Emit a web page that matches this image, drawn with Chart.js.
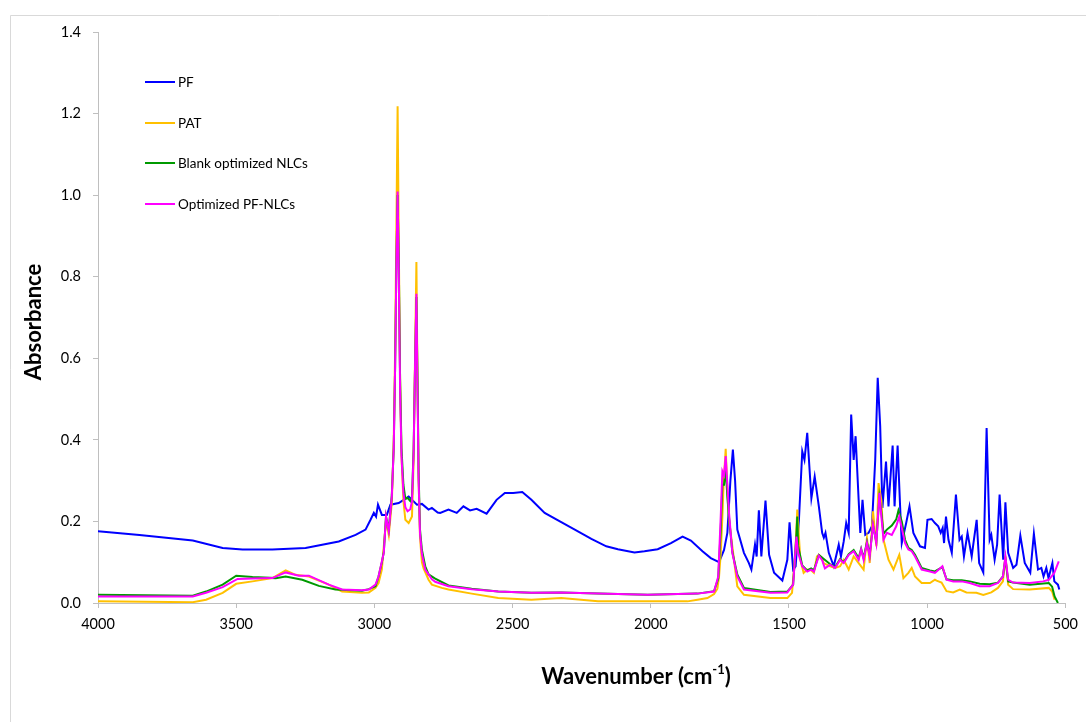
<!DOCTYPE html>
<html>
<head>
<meta charset="utf-8">
<script src="https://cdn.jsdelivr.net/npm/chart.js@4.4.1/dist/chart.umd.min.js"></script>
<style>
  html, body { margin: 0; padding: 0; background: #fff; }
  #wrap { width: 1086px; height: 722px; position: relative; }
</style>
</head>
<body>
<div id="wrap"><canvas id="ftirChart" width="1086" height="722"></canvas></div>
<script>
// wavenumbers (cm-1) and absorbance
const seriesNames = ['PF', 'PAT', 'Blank optimized NLCs', 'Optimized PF-NLCs'];
const xTicks = [4000, 3500, 3000, 2500, 2000, 1500, 1000, 500];
const yTicks = [0, 0.2, 0.4, 0.6, 0.8, 1.0, 1.2, 1.4];

const pfWn = [4000, 3850, 3657, 3549, 3477, 3369, 3249, 3129, 3068, 3032, 3014, 3002, 2994, 2987, 2973, 2955, 2942, 2912, 2876, 2846,
  2828, 2804, 2792, 2771, 2762, 2732, 2702, 2678, 2654, 2630, 2594, 2558, 2528, 2498, 2465, 2432, 2384, 2324, 2275, 2215,
  2161, 2119, 2059, 2023, 1975, 1927, 1885, 1855, 1813, 1783, 1753, 1735, 1723, 1712, 1703, 1695, 1687, 1663, 1645, 1636,
  1623, 1617, 1609, 1600, 1585, 1572, 1554, 1524, 1506, 1498, 1485, 1476, 1464, 1452, 1444, 1434, 1419, 1407, 1392, 1380,
  1374, 1368, 1356, 1338, 1320, 1312, 1302, 1293, 1284, 1275, 1266, 1259, 1248, 1242, 1234, 1224, 1212, 1200, 1188, 1179,
  1170, 1162, 1149, 1140, 1125, 1118, 1107, 1098, 1092, 1076, 1064, 1050, 1026, 1008, 999, 984, 972, 960, 951, 944,
  939, 932, 923, 911, 896, 883, 875, 867, 854, 839, 831, 821, 812, 797, 785, 774, 768, 756, 747, 738,
  725, 717, 707, 689, 677, 663, 647, 627, 614, 599, 587, 579, 569, 561, 547, 540, 527, 522];
const pfAbs = [0.176, 0.167, 0.153, 0.135, 0.131, 0.131, 0.135, 0.151, 0.167, 0.180, 0.204, 0.221, 0.212, 0.241, 0.216, 0.216, 0.241, 0.245, 0.261, 0.241,
  0.243, 0.229, 0.233, 0.222, 0.221, 0.229, 0.221, 0.237, 0.227, 0.231, 0.219, 0.253, 0.270, 0.270, 0.272, 0.253, 0.221, 0.198, 0.180, 0.157,
  0.139, 0.132, 0.124, 0.127, 0.132, 0.147, 0.163, 0.153, 0.127, 0.110, 0.100, 0.130, 0.172, 0.300, 0.376, 0.300, 0.180, 0.123, 0.098, 0.082,
  0.143, 0.114, 0.227, 0.114, 0.251, 0.118, 0.074, 0.055, 0.106, 0.198, 0.082, 0.090, 0.204, 0.372, 0.351, 0.417, 0.257, 0.310, 0.237, 0.172,
  0.160, 0.172, 0.123, 0.090, 0.143, 0.114, 0.151, 0.196, 0.172, 0.462, 0.351, 0.409, 0.253, 0.172, 0.253, 0.167, 0.172, 0.188, 0.351, 0.552,
  0.433, 0.233, 0.347, 0.237, 0.386, 0.237, 0.386, 0.237, 0.147, 0.196, 0.237, 0.172, 0.139, 0.135, 0.204, 0.206, 0.196, 0.188, 0.172, 0.184,
  0.147, 0.212, 0.155, 0.123, 0.266, 0.155, 0.163, 0.114, 0.172, 0.114, 0.155, 0.204, 0.098, 0.075, 0.429, 0.155, 0.167, 0.106, 0.143, 0.266,
  0.106, 0.247, 0.123, 0.086, 0.094, 0.165, 0.098, 0.074, 0.170, 0.082, 0.086, 0.065, 0.086, 0.061, 0.098, 0.053, 0.045, 0.033];

const patWn = [4000, 3657, 3609, 3549, 3500, 3441, 3369, 3321, 3285, 3237, 3165, 3117, 3045, 3020, 2996, 2985, 2973, 2963, 2958, 2948,
  2937, 2930, 2925, 2920, 2916, 2912, 2907, 2902, 2895, 2888, 2876, 2864, 2858, 2853, 2848, 2844, 2840, 2835, 2828, 2822,
  2804, 2792, 2756, 2732, 2648, 2552, 2432, 2324, 2191, 2011, 1867, 1831, 1795, 1771, 1759, 1753, 1747, 1741, 1737, 1729,
  1723, 1717, 1705, 1687, 1663, 1567, 1506, 1489, 1477, 1470, 1459, 1447, 1434, 1420, 1410, 1399, 1392, 1380, 1375, 1351,
  1333, 1315, 1302, 1284, 1266, 1248, 1230, 1218, 1208, 1196, 1184, 1176, 1166, 1158, 1140, 1122, 1101, 1086, 1068, 1056,
  1044, 1020, 990, 972, 966, 948, 930, 906, 882, 858, 822, 797, 768, 744, 726, 717, 707, 689, 629, 560,
  548, 539];
const patAbs = [0.004, 0.002, 0.008, 0.025, 0.047, 0.053, 0.061, 0.080, 0.069, 0.065, 0.045, 0.028, 0.025, 0.026, 0.037, 0.049, 0.082, 0.163, 0.204, 0.167,
  0.245, 0.400, 0.620, 0.950, 1.218, 0.900, 0.550, 0.360, 0.250, 0.204, 0.196, 0.212, 0.350, 0.600, 0.836, 0.550, 0.300, 0.160, 0.100, 0.085,
  0.057, 0.045, 0.037, 0.033, 0.023, 0.012, 0.008, 0.012, 0.004, 0.004, 0.004, 0.008, 0.012, 0.022, 0.035, 0.065, 0.120, 0.212, 0.286, 0.378,
  0.280, 0.204, 0.139, 0.041, 0.020, 0.012, 0.012, 0.025, 0.123, 0.229, 0.106, 0.074, 0.082, 0.080, 0.074, 0.114, 0.118, 0.110, 0.098, 0.090,
  0.086, 0.090, 0.106, 0.082, 0.114, 0.098, 0.082, 0.159, 0.098, 0.225, 0.139, 0.294, 0.253, 0.155, 0.106, 0.082, 0.118, 0.061, 0.074, 0.086,
  0.065, 0.049, 0.049, 0.057, 0.055, 0.050, 0.029, 0.026, 0.033, 0.026, 0.025, 0.020, 0.026, 0.037, 0.053, 0.114, 0.045, 0.034, 0.033, 0.037,
  0.028, 0.008];

const blankWn = [4000, 3657, 3609, 3549, 3500, 3441, 3357, 3321, 3261, 3201, 3141, 3045, 3020, 2996, 2985, 2973, 2966, 2958, 2948, 2937,
  2930, 2925, 2920, 2916, 2912, 2907, 2902, 2895, 2888, 2880, 2870, 2864, 2858, 2853, 2848, 2844, 2840, 2835, 2828, 2822,
  2816, 2804, 2780, 2732, 2648, 2552, 2432, 2324, 2191, 2011, 1831, 1771, 1756, 1747, 1741, 1735, 1729, 1723, 1717, 1705,
  1687, 1663, 1567, 1506, 1485, 1473, 1470, 1467, 1452, 1434, 1420, 1410, 1392, 1374, 1351, 1333, 1315, 1302, 1284, 1266,
  1248, 1239, 1230, 1218, 1208, 1196, 1184, 1173, 1167, 1158, 1146, 1128, 1112, 1104, 1092, 1080, 1068, 1056, 1044, 1020,
  990, 972, 966, 945, 930, 906, 875, 846, 810, 774, 744, 726, 717, 707, 689, 629, 560, 548, 539, 527];
const blankAbs = [0.020, 0.018, 0.028, 0.045, 0.067, 0.064, 0.061, 0.065, 0.057, 0.042, 0.033, 0.030, 0.034, 0.041, 0.065, 0.100, 0.125, 0.212, 0.180, 0.265,
  0.380, 0.580, 0.850, 1.000, 0.850, 0.550, 0.380, 0.290, 0.255, 0.258, 0.250, 0.260, 0.380, 0.580, 0.750, 0.550, 0.320, 0.180, 0.130, 0.110,
  0.090, 0.070, 0.060, 0.043, 0.035, 0.028, 0.025, 0.026, 0.023, 0.020, 0.023, 0.029, 0.060, 0.180, 0.290, 0.290, 0.330, 0.260, 0.210, 0.125,
  0.070, 0.037, 0.027, 0.028, 0.045, 0.170, 0.212, 0.140, 0.092, 0.080, 0.085, 0.080, 0.118, 0.108, 0.095, 0.088, 0.108, 0.100, 0.120, 0.130,
  0.110, 0.133, 0.110, 0.150, 0.118, 0.190, 0.150, 0.260, 0.230, 0.170, 0.180, 0.190, 0.205, 0.227, 0.200, 0.155, 0.135, 0.130, 0.118, 0.086,
  0.080, 0.077, 0.080, 0.088, 0.058, 0.056, 0.056, 0.053, 0.047, 0.046, 0.050, 0.065, 0.110, 0.053, 0.050, 0.045, 0.049, 0.040, 0.016, 0.000];

const optWn = [4000, 3657, 3609, 3549, 3495, 3441, 3369, 3321, 3273, 3237, 3165, 3117, 3045, 3020, 2996, 2985, 2966, 2958, 2948, 2937,
  2930, 2925, 2920, 2916, 2912, 2907, 2902, 2895, 2888, 2880, 2870, 2864, 2858, 2853, 2848, 2844, 2840, 2835, 2828, 2822,
  2816, 2792, 2780, 2732, 2648, 2552, 2432, 2324, 2191, 2011, 1831, 1771, 1756, 1747, 1741, 1735, 1729, 1723, 1717, 1705,
  1687, 1663, 1567, 1506, 1485, 1473, 1467, 1452, 1434, 1420, 1410, 1392, 1380, 1370, 1351, 1333, 1315, 1302, 1284, 1266,
  1248, 1239, 1230, 1218, 1208, 1196, 1184, 1173, 1167, 1158, 1146, 1128, 1112, 1101, 1092, 1080, 1068, 1056, 1044, 1020,
  990, 972, 966, 945, 930, 906, 875, 846, 810, 774, 744, 726, 717, 707, 689, 629, 581, 560, 540, 524];
const optAbs = [0.016, 0.016, 0.025, 0.039, 0.059, 0.060, 0.061, 0.075, 0.067, 0.067, 0.045, 0.033, 0.031, 0.033, 0.045, 0.065, 0.123, 0.212, 0.176, 0.261,
  0.380, 0.580, 0.850, 1.009, 0.820, 0.520, 0.360, 0.270, 0.235, 0.225, 0.230, 0.250, 0.370, 0.580, 0.758, 0.520, 0.300, 0.170, 0.120, 0.100,
  0.082, 0.058, 0.052, 0.041, 0.034, 0.028, 0.025, 0.026, 0.023, 0.020, 0.023, 0.028, 0.065, 0.212, 0.323, 0.313, 0.360, 0.290, 0.221, 0.123,
  0.065, 0.033, 0.025, 0.026, 0.045, 0.163, 0.123, 0.090, 0.077, 0.082, 0.077, 0.116, 0.105, 0.085, 0.094, 0.086, 0.106, 0.098, 0.118, 0.127,
  0.106, 0.131, 0.106, 0.147, 0.114, 0.192, 0.147, 0.270, 0.221, 0.155, 0.172, 0.167, 0.188, 0.212, 0.184, 0.147, 0.131, 0.127, 0.114, 0.082,
  0.077, 0.074, 0.077, 0.090, 0.057, 0.053, 0.053, 0.049, 0.041, 0.041, 0.049, 0.065, 0.114, 0.057, 0.050, 0.049, 0.053, 0.057, 0.074, 0.102];

const colors = ['#0000FF', '#FFC000', '#009A00', '#FF00FF'];

function pts(wn, ab) {
  return wn.map((w, i) => ({ x: w, y: ab[i] }));
}

const FONT = 'Lato, "Open Sans", sans-serif';

// frame, legend and axis titles
const decor = {
  id: 'decor',
  beforeDraw(chart) {
    const ctx = chart.ctx;
    ctx.save();
    ctx.fillStyle = '#fff';
    ctx.fillRect(0, 0, chart.width, chart.height);
    ctx.strokeStyle = '#d9d9d9';
    ctx.lineWidth = 1;
    ctx.beginPath();
    ctx.moveTo(10.5, chart.height + 2);
    ctx.lineTo(10.5, 15.5);
    ctx.lineTo(chart.width + 2, 15.5);
    ctx.stroke();
    ctx.restore();
  },
  afterDraw(chart) {
    const ctx = chart.ctx;
    const area = chart.chartArea;
    ctx.save();

    // legend
    const rows = [82, 123, 163, 204];
    ctx.font = '13.5px ' + FONT;
    ctx.textBaseline = 'middle';
    ctx.textAlign = 'left';
    chart.data.datasets.forEach((ds, i) => {
      ctx.strokeStyle = ds.borderColor;
      ctx.lineWidth = 2;
      ctx.beginPath();
      ctx.moveTo(145, rows[i]);
      ctx.lineTo(175, rows[i]);
      ctx.stroke();
      ctx.fillStyle = '#000';
      ctx.fillText(ds.label, 178, rows[i] + 1);
    });

    // y title
    ctx.font = 'bold 22px ' + FONT;
    ctx.fillStyle = '#000';
    ctx.translate(34, 322);
    ctx.rotate(-Math.PI / 2);
    ctx.textAlign = 'center';
    ctx.fillText('Absorbance', 0, 0);
    ctx.setTransform(1, 0, 0, 1, 0, 0);

    // x title with superscript
    const main = 'Wavenumber (cm';
    const sup = '-1';
    const close = ')';
    ctx.font = 'bold 22px ' + FONT;
    const w1 = ctx.measureText(main).width;
    const w3 = ctx.measureText(close).width;
    ctx.font = 'bold 13px ' + FONT;
    const w2 = ctx.measureText(sup).width;
    const total = w1 + w2 + w3;
    let x = 636 - total / 2;
    const y = 677;
    ctx.textAlign = 'left';
    ctx.font = 'bold 22px ' + FONT;
    ctx.fillText(main, x, y);
    x += w1;
    ctx.font = 'bold 13px ' + FONT;
    ctx.fillText(sup, x, y - 7);
    x += w2;
    ctx.font = 'bold 22px ' + FONT;
    ctx.fillText(close, x, y);
    ctx.restore();
  }
};

const datasets = [
  { wn: pfWn, ab: pfAbs },
  { wn: patWn, ab: patAbs },
  { wn: blankWn, ab: blankAbs },
  { wn: optWn, ab: optAbs }
].map((s, i) => ({
  label: seriesNames[i],
  data: pts(s.wn, s.ab),
  borderColor: colors[i],
  backgroundColor: colors[i],
  borderWidth: 2,
  pointRadius: 0,
  tension: 0,
  fill: false,
  order: 3 - i
}));

const ctx = document.getElementById('ftirChart').getContext('2d');
new Chart(ctx, {
  type: 'line',
  data: { datasets: datasets },
  options: {
    responsive: false,
    animation: false,
    layout: { padding: { top: 32, right: 16, bottom: 0, left: 0 } },
    plugins: {
      legend: { display: false },
      tooltip: { enabled: false }
    },
    scales: {
      x: {
        type: 'linear',
        reverse: true,
        min: 500,
        max: 4000,
        afterBuildTicks: s => { s.ticks = xTicks.map(v => ({ value: v })); },
        afterFit: s => { s.height = 119; },
        ticks: {
          color: '#000',
          font: { family: FONT, size: 14.5 },
          padding: 8,
          maxRotation: 0,
          callback: v => String(v)
        },
        grid: { drawOnChartArea: false, drawTicks: true, tickLength: 5, color: '#bfbfbf' },
        border: { color: '#bfbfbf' }
      },
      y: {
        min: 0,
        max: 1.4,
        afterBuildTicks: s => { s.ticks = yTicks.map(v => ({ value: v })); },
        afterFit: s => { s.width = 98; },
        ticks: {
          color: '#000',
          font: { family: FONT, size: 14.5 },
          padding: 12,
          callback: v => v.toFixed(1)
        },
        grid: { drawOnChartArea: false, drawTicks: true, tickLength: 5, color: '#bfbfbf' },
        border: { color: '#bfbfbf' }
      }
    }
  },
  plugins: [decor]
});
</script>
</body>
</html>
